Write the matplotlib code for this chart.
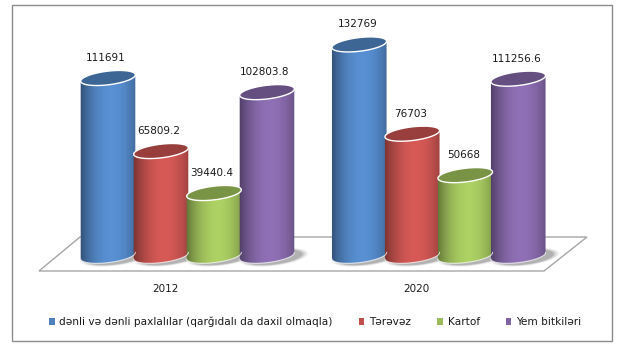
import numpy as np
import matplotlib
matplotlib.use("Agg")
import matplotlib.pyplot as plt
from matplotlib.patches import Polygon, Rectangle
from matplotlib.colors import to_rgb

# ---------------- data ----------------
years = ["2012", "2020"]
series = ["dənli və dənli paxlalılar (qarğıdalı da daxil olmaqla)",
          "Tərəvəz", "Kartof", "Yem bitkiləri"]
grain = [111691, 132769]
vegetables = [65809.2, 76703]
potato = [39440.4, 50668]
fodder = [102803.8, 111256.6]
labels_2012 = ["111691", "65809.2", "39440.4", "102803.8"]
labels_2020 = ["132769", "76703", "50668", "111256.6"]
colors = ["#4F81BD", "#C0504D", "#9BBB59", "#8064A2"]

values = [grain, vegetables, potato, fodder]
value_labels = [labels_2012, labels_2020]

# ---------------- figure ----------------
W, H = 622, 357
fig = plt.figure(figsize=(W / 100, H / 100), dpi=100)
fig.patch.set_facecolor("white")

# decorative axes in pixel coordinates
axd = fig.add_axes([0, 0, 1, 1], zorder=0)
axd.set_xlim(0, W)
axd.set_ylim(H, 0)
axd.axis("off")

# data axes: x in pixels, y in value units
y0_px = 255.8      # pixel row of value 0
k = 1.592 / 1000   # pixels per unit
ax = fig.add_axes([0, 0, 1, 1], zorder=1)
ax.patch.set_alpha(0)
ax.set_xlim(0, W)
ax.set_ylim((y0_px - H) / k, y0_px / k)
ax.axis("off")

# frame
axd.add_patch(Rectangle((12, 5), 600, 336, fill=False, ec="#8c8c8c", lw=1.0))
# floor
axd.add_patch(Polygon([(39, 271), (544, 271), (587, 237), (80, 237)],
                      closed=True, fc="white", ec="#a6a6a6", lw=1.0))

a_px, b_px, tilt = 27.5, 6.8, np.deg2rad(7)
bar_step = 53
group_centers = [187.5, 438.75]


def ell(cx, cv, t):
    dx = a_px * np.cos(t) * np.cos(tilt) - b_px * np.sin(t) * np.sin(tilt)
    dy = a_px * np.cos(t) * np.sin(tilt) + b_px * np.sin(t) * np.cos(tilt)
    return cx + dx, cv + dy / k


def shade(c, f):
    return np.clip(np.array(to_rgb(c)) * f, 0, 1)


for gi, gc in enumerate(group_centers):
    for si in range(4):
        v = values[si][gi]
        cx = gc + (si - 1.5) * bar_step
        col = colors[si]
        # shadow
        for j, al in enumerate([0.05, 0.07, 0.09, 0.12]):
            sx, sy = ell(cx + 5, 0, np.linspace(0, 2 * np.pi, 80))
            sc = 1.25 - j * 0.07
            xs = cx + 7 + (sx - cx - 5) * sc
            ys = sy * sc - 1.5 / k
            ax.add_patch(Polygon(np.column_stack([xs, ys]), closed=True,
                                 fc="black", ec="none", alpha=al, zorder=2))
        # body
        tt = np.linspace(np.pi, 2 * np.pi, 60)
        tx, ty = ell(cx, v, tt)
        bx, by = ell(cx, 0, tt[::-1])
        body = np.column_stack([np.r_[tx, bx], np.r_[ty, by]])
        bp = Polygon(body, closed=True, fc="none", ec="none", zorder=3)
        ax.add_patch(bp)
        s = np.linspace(0, 1, 120)
        fac = 0.6 + 0.52 * np.sin(np.pi * np.clip(s * 0.9 + 0.0, 0, 1)) ** 0.8
        grad = np.array([shade(col, f) for f in fac])[None, :, :]
        im = ax.imshow(grad, extent=[cx - a_px - 1, cx + a_px + 1,
                                     -2 * b_px / k, v + 2 * b_px / k],
                       aspect="auto", interpolation="bilinear", zorder=3)
        im.set_clip_path(bp)
        # bottom light edge
        ax.plot(bx, by, color="white", lw=0.8, alpha=0.7, zorder=4)
        # top
        ta = np.linspace(0, 2 * np.pi, 120)
        ex, ey = ell(cx, v, ta)
        ax.add_patch(Polygon(np.column_stack([ex, ey]), closed=True,
                             fc=shade(col, 0.79), ec="white", lw=1.0, zorder=5))
        # value label
        ax.text(cx - 2, v + 20 / k, value_labels[gi][si], ha="center",
                va="center", fontsize=7.5, family="DejaVu Sans",
                color="#1a1a1a", zorder=6)
    axd.text(gc - 22, 289, years[gi], ha="center", va="center",
             fontsize=7.5, family="DejaVu Sans", color="#1a1a1a")

# legend
handles = [Rectangle((0, 0), 1, 1, fc=c, ec="none") for c in colors]
leg = fig.legend(handles, series, loc="center", ncol=4,
                 bbox_to_anchor=(315 / W, 1 - 322 / H), frameon=False,
                 handlelength=0.55, handleheight=0.55,
                 handletextpad=0.45, columnspacing=2.45,
                 prop={"family": "DejaVu Sans", "size": 7.6})
for t in leg.get_texts():
    t.set_color("#1a1a1a")

fig.savefig("out.png", dpi=100, facecolor="white")
